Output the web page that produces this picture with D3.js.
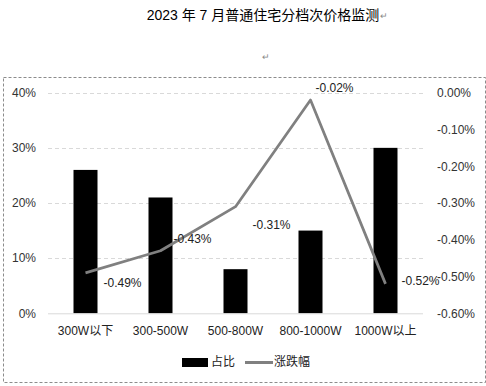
<!DOCTYPE html>
<html><head><meta charset="utf-8">
<script src="https://cdn.jsdelivr.net/npm/d3@7"></script>
<style>
html,body{margin:0;padding:0;background:#fff;}
svg{display:block;}
text{font-family:"Liberation Sans","Noto Sans CJK SC",sans-serif;}
</style></head>
<body>
<script>
const categories = ["300W以下","300-500W","500-800W","800-1000W","1000W以上"];
const shareValues = [26, 21, 8, 15, 30];          // 占比 (%)
const changeValues = [-0.49, -0.43, -0.31, -0.02, -0.52]; // 涨跌幅 (%)
const leftTicks = [0, 10, 20, 30, 40];
const rightTicks = [0, -0.1, -0.2, -0.3, -0.4, -0.5, -0.6];
const title = "2023 年 7 月普通住宅分档次价格监测";
const seriesNames = ["占比", "涨跌幅"];

// label offsets (layout only)
const labelDx = [18, 13, 17, 5, 16];
const labelDy = [10, -12, 18, -12, -3];

const W = 486, H = 386;
const svg = d3.select("body").append("svg").attr("width", W).attr("height", H);

const font = '"Liberation Sans","Noto Sans CJK SC",sans-serif';

// title
const t = svg.append("text").attr("x", 263).attr("y", 20).attr("text-anchor", "middle")
  .attr("font-size", 14).attr("fill", "#000").style("font-family", font).text(title);
const tb = t.node().getBBox();
svg.append("text").attr("x", tb.x + tb.width + 1).attr("y", 19).attr("font-size", 9).attr("fill", "#888").text("↵");
svg.append("text").attr("x", 262).attr("y", 60).attr("font-size", 9).attr("fill", "#888").text("↵");

// dashed border
svg.append("rect").attr("x", 3.5).attr("y", 77.5).attr("width", 482).attr("height", 305)
  .attr("fill", "none").attr("stroke", "#8c8c8c").attr("stroke-dasharray", "3,2").attr("stroke-width", 1);

const x0 = 48, x1 = 423, yTop = 92.7, yBot = 313.3;
const x = d3.scaleBand().domain(categories).range([x0, x1]).paddingInner(0).paddingOuter(0);
const yL = d3.scaleLinear().domain([0, 40]).range([yBot, yTop]);
const yR = d3.scaleLinear().domain([-0.6, 0]).range([yBot, yTop]);

// gridlines
svg.append("g").selectAll("line").data(leftTicks.filter(d => d > 0)).join("line")
  .attr("x1", x0).attr("x2", x1).attr("y1", d => Math.round(yL(d)) + 0.5).attr("y2", d => Math.round(yL(d)) + 0.5)
  .attr("stroke", "#d9d9d9").attr("stroke-dasharray", "4,3").attr("stroke-width", 1);

// left axis
const gL = svg.append("g").attr("transform", `translate(${36},0)`)
  .call(d3.axisLeft(yL).tickValues(leftTicks).tickFormat(d => d + "%").tickSize(0).tickPadding(0));
gL.select(".domain").remove();
gL.selectAll("text").attr("font-size", 12).attr("fill", "#333").style("font-family", font);

// right axis
const gR = svg.append("g").attr("transform", `translate(${437},0)`)
  .call(d3.axisRight(yR).tickValues(rightTicks).tickFormat(d => d.toFixed(2) + "%").tickSize(0).tickPadding(0));
gR.select(".domain").remove();
gR.selectAll("text").attr("font-size", 12).attr("fill", "#333").style("font-family", font);

// bars
const bw = 24;
svg.append("g").selectAll("rect").data(shareValues).join("rect")
  .attr("x", (d, i) => x(categories[i]) + x.bandwidth() / 2 - bw / 2)
  .attr("y", d => yL(d)).attr("width", bw).attr("height", d => yL(0) - yL(d))
  .attr("fill", "#000");

// baseline axis
svg.append("line").attr("x1", x0).attr("x2", x1).attr("y1", yBot + 0.5).attr("y2", yBot + 0.5)
  .attr("stroke", "#d9d9d9").attr("stroke-width", 1);

// x labels
const gX = svg.append("g").attr("transform", `translate(0,${yBot})`)
  .call(d3.axisBottom(x).tickSize(0).tickPadding(13));
gX.select(".domain").remove();
gX.selectAll("text").attr("font-size", 12).attr("fill", "#222").style("font-family", font);

// line
const line = d3.line().x((d, i) => x(categories[i]) + x.bandwidth() / 2).y(d => yR(d));
svg.append("path").datum(changeValues).attr("d", line).attr("fill", "none")
  .attr("stroke", "#808080").attr("stroke-width", 2.75).attr("stroke-linejoin", "round");

// data labels
svg.append("g").selectAll("text").data(changeValues).join("text")
  .attr("x", (d, i) => x(categories[i]) + x.bandwidth() / 2 + labelDx[i])
  .attr("y", (d, i) => yR(d) + labelDy[i])
  .attr("dy", "0.35em").attr("font-size", 12).attr("fill", "#222").style("font-family", font)
  .text(d => d.toFixed(2) + "%");

// legend
const lg = svg.append("g");
lg.append("rect").attr("x", 182).attr("y", 358).attr("width", 26).attr("height", 9).attr("fill", "#000");
lg.append("text").attr("x", 211).attr("y", 362).attr("dy", "0.35em").attr("font-size", 12).attr("fill", "#222")
  .style("font-family", font).text(seriesNames[0]);
lg.append("line").attr("x1", 245).attr("x2", 273).attr("y1", 362.5).attr("y2", 362.5)
  .attr("stroke", "#808080").attr("stroke-width", 3);
lg.append("text").attr("x", 274).attr("y", 362).attr("dy", "0.35em").attr("font-size", 12).attr("fill", "#222")
  .style("font-family", font).text(seriesNames[1]);
</script>
</body></html>
